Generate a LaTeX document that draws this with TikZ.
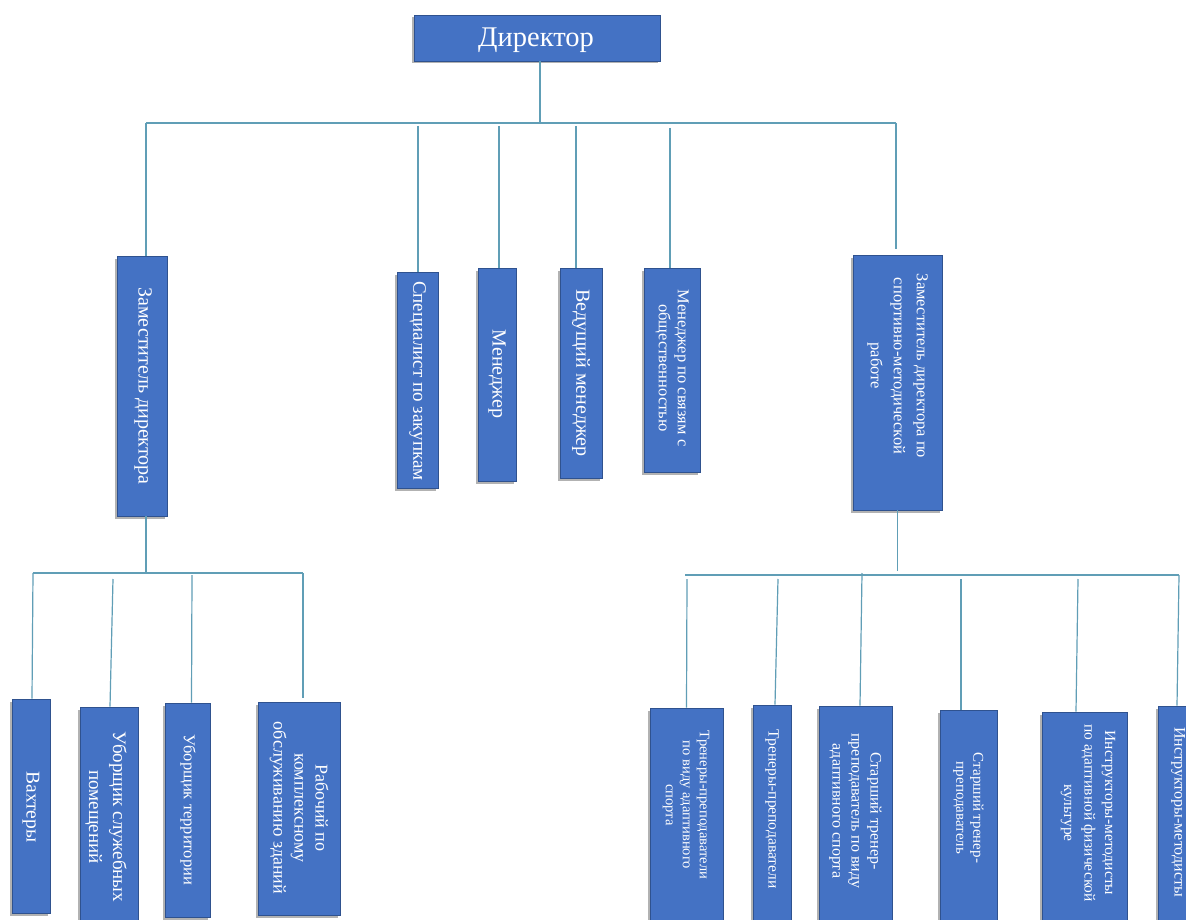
\documentclass[tikz,border=0pt]{standalone}
\usepackage{fontspec}
\setmainfont{Liberation Serif}
\usetikzlibrary{shadows,calc}
\definecolor{boxfill}{RGB}{68,114,196}
\definecolor{boxline}{RGB}{47,82,143}
\definecolor{conn}{RGB}{96,158,182}
\newcommand\fsz[2]{\fontsize{#1}{#2}\selectfont}
\tikzset{
  orgbox/.style={draw=boxline, line width=0.8pt, fill=boxfill, inner sep=0pt,
    drop shadow={shadow xshift=-2pt, shadow yshift=-2.5pt, opacity=0.3, fill=black}},
  vtext/.style={rotate=-90, text=white, align=center, inner sep=0pt},
  htext/.style={text=white, align=center, inner sep=0pt},
  link/.style={draw=conn, line width=1.2pt},
}
\begin{document}
\begin{tikzpicture}[x=1pt,y=-1pt]
\useasboundingbox (0,0) rectangle (1186,920);
\clip (0,0) rectangle (1186,920);
\fill[white] (0,0) rectangle (1186,920);

% ---- boxes ----
\node[orgbox, minimum width=246pt, minimum height=46pt] (dir) at (537,38) {};
\node[htext, font=\fsz{28.5}{32}] (dirt) at (536,40) {Директор};

\node[orgbox, minimum width=50pt, minimum height=260pt] (zam1) at (142,386) {};
\node[vtext, font=\fsz{20}{24}] (zam1t) at (143,386) {Заместитель директора};

\node[orgbox, minimum width=41pt, minimum height=216pt] (spec) at (417.5,380) {};
\node[vtext, font=\fsz{19}{23}] (spect) at (417.5,381) {Специалист по закупкам};

\node[orgbox, minimum width=38pt, minimum height=213pt] (man) at (497,374.5) {};
\node[vtext, font=\fsz{20}{24}] (mant) at (497,374) {Менеджер};

\node[orgbox, minimum width=42pt, minimum height=210pt] (lead) at (581,373) {};
\node[vtext, font=\fsz{20}{24}] (leadt) at (581,373) {Ведущий менеджер};

\node[orgbox, minimum width=56pt, minimum height=204pt] (pr) at (672,370) {};
\node[vtext, font=\fsz{16.5}{19}] (prt) at (672,368) {Менеджер по связям с\\общественностью};

\node[orgbox, minimum width=89pt, minimum height=255pt] (zam2) at (897.5,382.5) {};
\node[vtext, font=\fsz{16.5}{23}] (zam2t) at (897.5,366) {Заместитель директора по\\спортивно-методической\\работе};

% bottom left
\node[orgbox, minimum width=38pt, minimum height=214pt] (vakh) at (31,806) {};
\node[vtext, font=\fsz{19.5}{24}] (vakht) at (31,807) {Вахтеры};

\node[orgbox, minimum width=58pt, minimum height=220pt] (ub1) at (109,817) {};
\node[vtext, font=\fsz{19}{24}] (ub1t) at (106,817) {Уборщик служебных\\помещений};

\node[orgbox, minimum width=45pt, minimum height=214pt] (ub2) at (187.5,810) {};
\node[vtext, font=\fsz{16.5}{20}] (ub2t) at (188,810) {Уборщик территории};

\node[orgbox, minimum width=82pt, minimum height=213pt] (rab) at (299,808.5) {};
\node[vtext, font=\fsz{18}{21}] (rabt) at (299,808) {Рабочий по\\комплексному\\обслуживанию зданий};

% bottom right
\node[orgbox, minimum width=73pt, minimum height=222pt] (r1) at (686.5,819) {};
\node[vtext, font=\fsz{14.5}{17}] (r1t) at (686,805) {Тренеры-преподаватели\\по виду адаптивного\\спорта};

\node[orgbox, minimum width=38pt, minimum height=225pt] (r2) at (772,817.5) {};
\node[vtext, font=\fsz{15.5}{18}] (r2t) at (772,809) {Тренеры-преподаватели};

\node[orgbox, minimum width=73pt, minimum height=224pt] (r3) at (855.5,818) {};
\node[vtext, font=\fsz{16}{19}] (r3t) at (855.5,811) {Старший тренер-\\преподаватель по виду\\адаптивного спорта};

\node[orgbox, minimum width=57pt, minimum height=220pt] (r4) at (968.5,820) {};
\node[vtext, font=\fsz{15}{17}] (r4t) at (968.5,808) {Старший тренер-\\преподаватель};

\node[orgbox, minimum width=85pt, minimum height=218pt] (r5) at (1084.5,821) {};
\node[vtext, font=\fsz{15.5}{20.5}] (r5t) at (1088,813) {Инструкторы-методисты\\по адаптивной физической\\культуре};

\node[orgbox, minimum width=42pt, minimum height=224pt] (r6) at (1179,818) {};
\node[vtext, font=\fsz{16}{19}] (r6t) at (1178,812) {Инструкторы-методисты};

% ---- connectors ----
\coordinate (busTL) at (146,123);
\coordinate (busTR) at (896,123);
\draw[link] ($(dir.south)+(3,0)$) -- ($(dir.south |- busTL)+(3,0)$);
\draw[link] (busTL) -- (busTR);
\draw[link] (busTL) -- (busTL |- zam1.north);
\draw[link] ($(spec.north |- busTL)+(0.5,3)$) -- ($(spec.north)+(0.5,0)$);
\draw[link] ($(man.north |- busTL)+(2,3)$) -- ($(man.north)+(2,0)$);
\draw[link] ($(lead.north |- busTL)+(-5,3)$) -- ($(lead.north)+(-5,0)$);
\draw[link] ($(pr.north |- busTL)+(-2,5)$) -- ($(pr.north)+(-2,0)$);
\draw[link] (busTR) -- ($(busTR |- zam2.north)+(0,-6)$);

\coordinate (busLL) at (33,573);
\coordinate (busLR) at (303,573);
\draw[link] (busTL |- zam1.south) -- (busTL |- busLL);
\draw[link] (busLL) -- (busLR);
\draw[link] (busLL) -- ($(vakh.north)+(1,0)$);
\draw[link] ($(ub1.north |- busLL)+(4,6)$) -- ($(ub1.north)+(1,0)$);
\draw[link] ($(ub2.north |- busLL)+(4.5,2)$) -- ($(ub2.north)+(4,0)$);
\draw[link] (busLR) -- ($(rab.north)+(4,-4)$);

\coordinate (busRL) at (685,575);
\coordinate (busRR) at (1179,575);
\draw[link] (zam2.south) -- ($(zam2.south |- busRL)+(0,-4)$);
\draw[link] (busRL) -- (busRR);
\draw[link] ($(r1.north |- busRL)+(0.5,4)$) -- (r1.north);
\draw[link] ($(r2.north |- busRL)+(6,4)$) -- ($(r2.north)+(3,0)$);
\draw[link] ($(r3.north |- busRL)+(6.5,-2)$) -- ($(r3.north)+(4.5,0)$);
\draw[link] ($(r4.north |- busRL)+(-7.5,4)$) -- ($(r4.north)+(-7.5,0)$);
\draw[link] ($(r5.north |- busRL)+(-6.5,4)$) -- ($(r5.north)+(-8.5,0)$);
\draw[link] (busRR) -- ($(r6.north)+(-2,0)$);
\end{tikzpicture}
\end{document}
